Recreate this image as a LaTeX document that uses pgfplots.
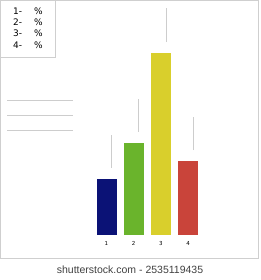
\documentclass[border=0pt]{standalone}
\usepackage{pgfplots}
\pgfplotsset{compat=1.18}
\usepackage{fontspec}
\setmainfont{DejaVu Sans}
\newfontfamily\wmfont{Liberation Sans}
\definecolor{c1}{HTML}{0B1276}
\definecolor{c2}{HTML}{6AB42C}
\definecolor{c3}{HTML}{D9CF2C}
\definecolor{c4}{HTML}{C9443A}
\definecolor{frame}{HTML}{CFCFCF}
\definecolor{gl}{HTML}{CDCDCD}
\begin{document}
\begin{tikzpicture}[x=1pt,y=1pt]
\useasboundingbox (0,0) rectangle (260,280);
% outer frame
\draw[frame, line width=0.8pt] (0.5,21.5) rectangle (258,279.6);
% legend box
\draw[frame, line width=0.8pt] (0.5,223) rectangle (55,279.6);
\foreach \i/\yy in {1/269,2/258,3/246.5,4/235}{
  \node[anchor=west, inner sep=0pt, font=\fontsize{9}{10}\selectfont] at (13,\yy) {\i-};
  \node[anchor=west, inner sep=0pt, font=\fontsize{9}{10}\selectfont] at (34,\yy) {\%};
}
% left lines
\foreach \yy in {179.3,164.3,149.3}{
  \draw[gl, line width=0.9pt] (7,\yy) -- (73,\yy);
}
\begin{axis}[
  at={(92.9pt,46pt)}, anchor=south west,
  scale only axis, width=108.7pt, height=226.25pt,
  xmin=0.5, xmax=4.5, ymin=0, ymax=125,
  axis line style={draw=none},
  xtick={1,2,3,4}, ytick=\empty,
  major tick length=0pt,
  /pgf/number format/assume math mode=true,
  xticklabel style={font=\fontsize{5.5}{6}\selectfont, yshift=-4pt},
  clip=false,
]
\addplot[ybar, bar width=19pt, bar shift=0pt, fill=c1, draw=c1] coordinates {(1,30)};
\addplot[ybar, bar width=19pt, bar shift=0pt, fill=c2, draw=c2] coordinates {(2,50)};
\addplot[ybar, bar width=19pt, bar shift=0pt, fill=c3, draw=c3] coordinates {(3,100)};
\addplot[ybar, bar width=19pt, bar shift=0pt, fill=c4, draw=c4] coordinates {(4,40)};
\addplot[gl, line width=0.8pt, mark=none] coordinates {(1.19,36.5) (1.19,54.7)};
\addplot[gl, line width=0.8pt, mark=none] coordinates {(2.19,56.4) (2.19,74.6)};
\addplot[gl, line width=0.8pt, mark=none] coordinates {(3.19,106) (3.19,124.9)};
\addplot[gl, line width=0.8pt, mark=none] coordinates {(4.19,46.4) (4.19,64.6)};
\end{axis}
\node[font=\wmfont\fontsize{10.5}{12}\selectfont, text=black!75] at (130,10) {shutterstock.com - 2535119435};
\end{tikzpicture}
\end{document}
